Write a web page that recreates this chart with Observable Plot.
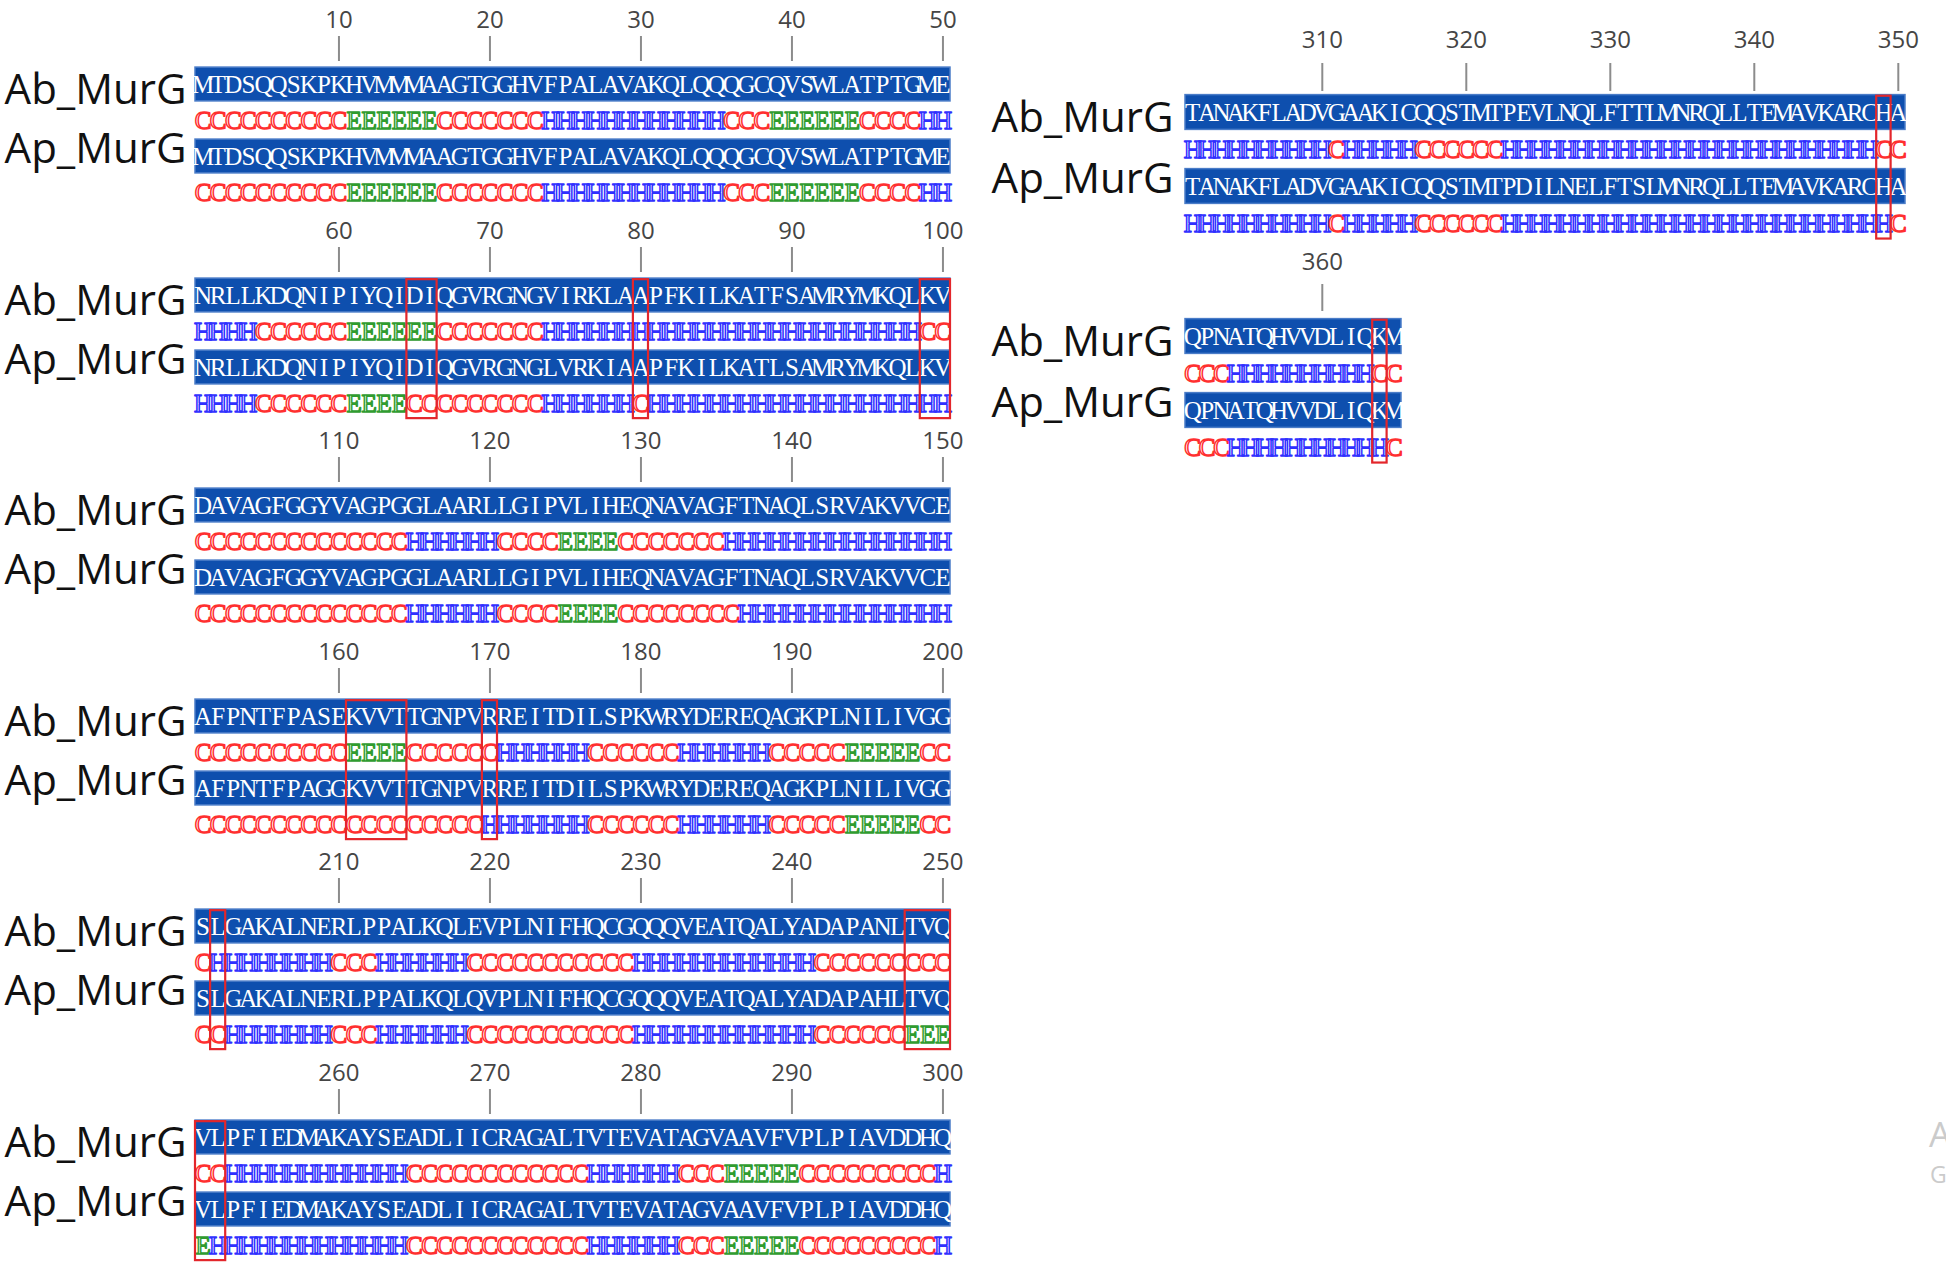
<!DOCTYPE html>
<html><head><meta charset="utf-8">
<script src="https://cdn.jsdelivr.net/npm/d3@7"></script>
<script src="https://cdn.jsdelivr.net/npm/@observablehq/plot@0.6"></script>
<style>
html,body{margin:0;padding:0;background:#fff;overflow:hidden}
#root{position:relative;width:1946px;height:1264px;overflow:hidden;background:#fff}
.blk{position:absolute}
.wm{position:absolute;font-family:"Open Sans",sans-serif;color:#cbcbcb;white-space:nowrap}
</style></head><body><div id="root"></div>
<script>
// ---------- data ----------
const blockStarts = [1, 51, 101, 151, 201, 251, 301, 351];
const seqNames = ["Ab_MurG", "Ap_MurG"];
const abSequence = [
  "MTDSQQSKPKHVMMMAAGTGGHVFPALAVAKQLQQQGCQVSWLATPTGME",
  "NRLLKDQNIPIYQIDIQGVRGNGVIRKLAAPFKILKATFSAMRYMKQLKV",
  "DAVAGFGGYVAGPGGLAARLLGIPVLIHEQNAVAGFTNAQLSRVAKVVCE",
  "AFPNTFPASEKVVTTGNPVRREITDILSPKWRYDEREQAGKPLNILIVGG",
  "SLGAKALNERLPPALKQLEVPLNIFHQCGQQQVEATQALYADAPANLTVQ",
  "VLPFIEDMAKAYSEADLIICRAGALTVTEVATAGVAAVFVPLPIAVDDHQ",
  "TANAKFLADVGAAKICQQSTMTPEVLNQLFTTLMNRQLLTEMAVKARCHA",
  "QPNATQHVVDLIQKM"
];
const apSequence = [
  "MTDSQQSKPKHVMMMAAGTGGHVFPALAVAKQLQQQGCQVSWLATPTGME",
  "NRLLKDQNIPIYQIDIQGVRGNGLVRKIAAPFKILKATLSAMRYMKQLKV",
  "DAVAGFGGYVAGPGGLAARLLGIPVLIHEQNAVAGFTNAQLSRVAKVVCE",
  "AFPNTFPAGGKVVTTGNPVRREITDILSPKWRYDEREQAGKPLNILIVGG",
  "SLGAKALNERLPPALKQLQVPLNIFHQCGQQQVEATQALYADAPAHLTVQ",
  "VLPFIEDMAKAYSEADLIICRAGALTVTEVATAGVAAVFVPLPIAVDDHQ",
  "TANAKFLADVGAAKICQQSTMTPDILNELFTSLMNRQLLTEMAVKARCHA",
  "QPNATQHVVDLIQKM"
];
const abStructure = [
  "CCCCCCCCCC" + "EEEEEE" + "CCCCCCC" + "HHHHHHHHHHHH" + "CCC" + "EEEEEE" + "CCCC" + "HH",
  "HHHH" + "CCCCCC" + "EEEEEE" + "CCCCCCC" + "HHHHHHHHHHHHHHHHHHHHHHHHH" + "CC",
  "CCCCCCCCCCCCCC" + "HHHHHH" + "CCCC" + "EEEE" + "CCCCCCC" + "HHHHHHHHHHHHHHH",
  "CCCCCCCCCC" + "EEEE" + "CCCCCC" + "HHHHHH" + "CCCCCC" + "HHHHHH" + "CCCCC" + "EEEEE" + "CC",
  "C" + "HHHHHHHH" + "CCC" + "HHHHHH" + "CCCCCCCCCCC" + "HHHHHHHHHHHH" + "CCCCCC" + "CCC",
  "CC" + "HHHHHHHHHHHH" + "CCCCCCCCCCCC" + "HHHHHH" + "CCC" + "EEEEE" + "CCCCCCCCC" + "H",
  "HHHHHHHHHH" + "C" + "HHHHH" + "CCCCCC" + "HHHHHHHHHHHHHHHHHHHHHHHHHH" + "CC",
  "CCC" + "HHHHHHHHHH" + "CC"
];
const apStructure = [
  "CCCCCCCCCC" + "EEEEEE" + "CCCCCCC" + "HHHHHHHHHHHH" + "CCC" + "EEEEEE" + "CCCC" + "HH",
  "HHHH" + "CCCCCC" + "EEEE" + "CC" + "CCCCCCC" + "HHHHHH" + "C" + "HHHHHHHHHHHHHHHHHHHH",
  "CCCCCCCCCCCCCC" + "HHHHHH" + "CCCC" + "EEEE" + "CCCCCCCC" + "HHHHHHHHHHHHHH",
  "CCCCCCCCCC" + "CCCC" + "CCCCC" + "H" + "HHHHHH" + "CCCCCC" + "HHHHHH" + "CCCCC" + "EEEEE" + "CC",
  "CC" + "HHHHHHH" + "CCC" + "HHHHHH" + "CCCCCCCCCCC" + "HHHHHHHHHHHH" + "CCCCCC" + "EEE",
  "EH" + "HHHHHHHHHHHH" + "CCCCCCCCCCCC" + "HHHHHH" + "CCC" + "EEEEE" + "CCCCCCCCC" + "H",
  "HHHHHHHHHH" + "C" + "HHHHH" + "CCCCCC" + "HHHHHHHHHHHHHHHHHHHHHHHHHHH" + "C",
  "CCC" + "HHHHHHHHHHH" + "C"
];
// positions where the two proteins differ (red boxes)
const changedRegions = [[65, 66], [80, 80], [99, 100], [161, 164], [170, 170], [202, 202], [248, 250], [251, 252], [349, 349], [364, 364]];
const structureColors = {C: "#ff2f2f", E: "#2f9c2f", H: "#2f2fff"};

// ---------- layout (pixels) ----------
const leftBlock = k => ({left: 0, top: k * 210.6, width: 960, height: 214, x0: 195, cell: 15.1, axisY: 60, tickSize: 25, tickPad: 8, row0: 84, rowStep: 36, labelDx: -9});
const layout = [
  leftBlock(0), leftBlock(1), leftBlock(2), leftBlock(3), leftBlock(4), leftBlock(5),
  {left: 960, top: 0, width: 986, height: 250, x0: 225, cell: 14.4, axisY: 90, tickSize: 28, tickPad: 15, row0: 112, rowStep: 37, labelDx: -12},
  {left: 960, top: 230, width: 986, height: 240, x0: 225, cell: 14.4, axisY: 80, tickSize: 27, tickPad: 14, row0: 106, rowStep: 37, labelDx: -12}
];

const root = document.getElementById("root");

function squeeze(svg, label, sx) {
  svg.querySelectorAll(`g[aria-label="${label}"] text`).forEach(t => {
    const x = +(t.getAttribute("x") || 0), y = +(t.getAttribute("y") || 0);
    const tr = t.getAttribute("transform") || "";
    t.removeAttribute("x"); t.removeAttribute("y");
    t.setAttribute("transform", `${tr} translate(${x},${y}) scale(${sx},1)`);
  });
}

blockStarts.forEach((start, b) => {
  const L = layout[b];
  const n = abSequence[b].length;
  const end = start + n - 1;
  const tracks = [abSequence[b], abStructure[b], apSequence[b], apStructure[b]];
  const cells = [];
  tracks.forEach((s, row) => {
    if (s.length !== n) console.warn("length mismatch", b, row, s.length);
    for (let i = 0; i < s.length; i++) cells.push({pos: start + i, row, ch: s[i], kind: row % 2 === 0 ? "seq" : "ss"});
  });
  const seqCells = cells.filter(d => d.kind === "seq");
  const ssCells = cells.filter(d => d.kind === "ss");
  const bars = [0, 2].map(row => ({row, start, end}));
  const boxes = changedRegions.filter(([a, z]) => a >= start && z <= end).map(([a, z]) => ({a, z}));
  const ticks = d3.range(Math.ceil(start / 10) * 10, end + 1, 10);
  const labels = seqNames.map((name, i) => ({name, row: i * 2, start}));

  const chart = Plot.plot({
    width: L.width, height: L.height,
    marginTop: L.axisY, marginLeft: 0, marginRight: 0, marginBottom: 0,
    style: {background: "transparent", overflow: "visible"},
    x: {domain: [start - 0.5, end + 0.5], range: [L.x0, L.x0 + n * L.cell], label: null},
    y: {domain: [0, 3], range: [L.row0, L.row0 + 3 * L.rowStep], axis: null},
    color: {type: "identity"},
    marks: [
      Plot.axisX(ticks, {anchor: "top", tickSize: L.tickSize, tickPadding: L.tickPad, fontSize: 24, fontFamily: "Open Sans", stroke: "#8c8c8c", strokeWidth: 2, fill: "#454545", label: null, tickFormat: d => String(d)}),
      Plot.rect(bars, {x1: d => d.start - 0.5, x2: d => d.end + 0.5, y1: d => d.row - 0.47, y2: d => d.row + 0.47, fill: "#0e4fae", stroke: "#4a7cc8", strokeWidth: 1.5}),
      Plot.text(seqCells, {x: "pos", y: "row", text: "ch", fill: "#ffffff", fontFamily: "Liberation Serif", fontSize: 25, ariaLabel: "seqch"}),
      Plot.text(ssCells, {x: "pos", y: "row", text: "ch", fill: "#ffffff", stroke: d => structureColors[d.ch], strokeWidth: 1.5, paintOrder: "fill", fontFamily: "Liberation Serif", fontSize: 25, ariaLabel: "ssch"}),
      Plot.rect(boxes, {x1: d => d.a - 0.5, x2: d => d.z + 0.5, y1: () => -0.44, y2: () => 3.42, fill: "none", stroke: "#e3262b", strokeWidth: 2.2}),
      Plot.text(labels.filter(d => d.row === 0), {x: d => d.start - 0.5, y: "row", text: "name", textAnchor: "end", dx: L.labelDx, dy: 6, fontFamily: "Open Sans", fontSize: 42, fill: "#111"}),
      Plot.text(labels.filter(d => d.row === 2), {x: d => d.start - 0.5, y: "row", text: "name", textAnchor: "end", dx: L.labelDx, dy: -7, fontFamily: "Open Sans", fontSize: 42, fill: "#111"})
    ]
  });
  squeeze(chart, "seqch", 0.6);
  squeeze(chart, "ssch", 0.85);
  chart.classList.add("blk");
  chart.style.position = "absolute";
  chart.style.left = L.left + "px";
  chart.style.top = L.top + "px";
  root.appendChild(chart);
});

// partially visible watermark at the right edge of the reference
const wm1 = document.createElement("div");
wm1.className = "wm"; wm1.textContent = "Activate Windows";
wm1.style.cssText += "left:1929px;top:1110px;font-size:35px;";
const wm2 = document.createElement("div");
wm2.className = "wm"; wm2.textContent = "Go to Settings to activate Windows.";
wm2.style.cssText += "left:1930px;top:1158px;font-size:23px;";
root.appendChild(wm1); root.appendChild(wm2);
</script></body></html>
